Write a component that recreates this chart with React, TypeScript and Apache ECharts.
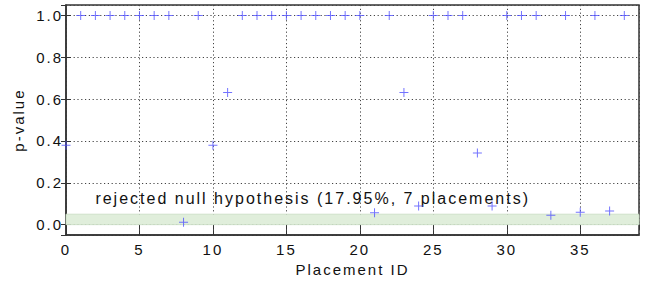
import React, { useEffect, useRef } from "react";
import * as echarts from "echarts";

const placementIds: number[] = [
  0, 1, 2, 3, 4, 5, 6, 7, 8, 9, 10, 11, 12, 13, 14, 15, 16, 17, 18, 19, 20,
  21, 22, 23, 24, 25, 26, 27, 28, 29, 30, 31, 32, 33, 34, 35, 36, 37, 38,
];
const pValues: number[] = [
  0.38, 1.0, 1.0, 1.0, 1.0, 1.0, 1.0, 1.0, 0.011, 1.0, 0.38, 0.632, 1.0, 1.0,
  1.0, 1.0, 1.0, 1.0, 1.0, 1.0, 1.0, 0.057, 1.0, 0.632, 0.089, 1.0, 1.0, 1.0,
  0.343, 0.089, 1.0, 1.0, 1.0, 0.045, 1.0, 0.059, 1.0, 0.065, 1.0,
];
const bandRange: number[] = [0, 0.05];
const annotationText = "rejected null hypothesis (17.95%, 7 placements)";
const annotationAt: number[] = [2, 0.127];
const xRange: number[] = [0, 39];
const yRange: number[] = [-0.05, 1.05];

const FONT = "Liberation Sans";

export default function App() {
  const ref = useRef<HTMLDivElement>(null);
  useEffect(() => {
    if (!ref.current) return;
    const chart = echarts.init(ref.current, undefined, { renderer: "svg" });
    const dotted = { type: [1.2, 2.6] as any, color: "#444", width: 1 };
    const plus =
      "path://M4.45,0H5.55V4.45H10V5.55H5.55V10H4.45V5.55H0V4.45H4.45Z";
    chart.setOption({
      animation: false,
      backgroundColor: "#fff",
      grid: {
        left: 66,
        right: 8,
        top: 5,
        bottom: 46,
        show: true,
        borderColor: "#333",
        borderWidth: 1.5,
        backgroundColor: "transparent",
      },
      xAxis: [
        {
          type: "value",
          min: xRange[0],
          max: xRange[1],
          interval: 5,
          name: "Placement ID",
          nameLocation: "middle",
          nameGap: 21,
          nameTextStyle: { fontFamily: FONT, fontSize: 15, color: "#111" },
          axisLine: { show: true, onZero: false, lineStyle: { color: "#333", width: 1.5 } },
          axisTick: { show: true, inside: true, length: 5, lineStyle: { color: "#333" } },
          axisLabel: {
            fontFamily: FONT,
            fontSize: 15,
            color: "#111",
            margin: 7,
            showMaxLabel: false,
          },
          splitLine: { show: true, lineStyle: dotted },
        },
        {
          type: "value",
          position: "top",
          min: xRange[0],
          max: xRange[1],
          interval: 5,
          axisLine: { show: false },
          axisTick: { show: true, inside: true, length: 5, lineStyle: { color: "#333" } },
          axisLabel: { show: false },
          splitLine: { show: false },
        },
      ],
      yAxis: [
        {
          type: "value",
          min: yRange[0],
          max: yRange[1],
          splitNumber: 5,
          name: "p-value",
          nameLocation: "middle",
          nameGap: 40,
          nameTextStyle: { fontFamily: FONT, fontSize: 15, color: "#111" },
          axisLine: { show: true, onZero: false, lineStyle: { color: "#333", width: 1.5 } },
          axisTick: { show: true, inside: true, length: 5, lineStyle: { color: "#333" } },
          axisLabel: {
            fontFamily: FONT,
            fontSize: 15,
            color: "#111",
            margin: 3,
            showMinLabel: false,
            showMaxLabel: false,
            formatter: (v: number) => v.toFixed(1),
          },
          splitLine: { show: true, lineStyle: dotted },
        },
        {
          type: "value",
          position: "right",
          min: yRange[0],
          max: yRange[1],
          splitNumber: 5,
          axisLine: { show: false },
          axisTick: { show: true, inside: true, length: 5, lineStyle: { color: "#333" } },
          axisLabel: { show: false },
          splitLine: { show: false },
        },
      ],
      series: [
        {
          type: "scatter",
          xAxisIndex: 0,
          yAxisIndex: 0,
          symbol: plus,
          symbolSize: 9,
          itemStyle: { color: "#5050ff" },
          data: placementIds.map((id, i) => [id, pValues[i]]),
          z: 5,
          markArea: {
            silent: true,
            itemStyle: { color: "#e0eedb", borderColor: "#c8dcc2", borderWidth: 0.8 },
            data: [[{ yAxis: bandRange[0], xAxis: xRange[0] }, { yAxis: bandRange[1], xAxis: xRange[1] }]],
          },
          markPoint: {
            silent: true,
            symbol: "circle",
            symbolSize: 0,
            label: {
              show: true,
              position: "right",
              distance: 0,
              formatter: annotationText,
              fontFamily: FONT,
              fontSize: 16,
              color: "#111",
            },
            data: [{ coord: annotationAt, value: 0 }],
          },
        },
      ],
    });
    return () => chart.dispose();
  }, []);
  return (
    <div
      ref={ref}
      style={{
        position: "fixed",
        left: 0,
        top: 0,
        width: 647,
        height: 282,
        letterSpacing: "2px",
      }}
    />
  );
}
